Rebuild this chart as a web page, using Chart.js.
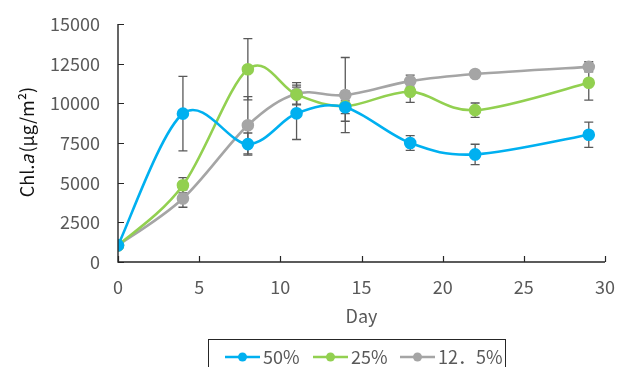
<!DOCTYPE html>
<html>
<head>
<meta charset="utf-8">
<script src="https://cdn.jsdelivr.net/npm/chart.js@4"></script>
<style>
  html, body { margin: 0; padding: 0; background: #fff; }
  #wrap { width: 619px; height: 367px; position: relative; }
</style>
</head>
<body>
<div id="wrap"><canvas id="c" width="619" height="367"></canvas></div>
<script>
// Sampling days
const days = [0, 4, 8, 11, 14, 18, 22, 29];

// Chl.a (µg/m²) means and standard deviations per treatment
const seriesLabels = ['50%', '25%', '12．5%'];
const chl50  = [1050, 9350, 7430, 9370, 9750, 7500, 6780, 8020];
const sd50   = [0, 2350, 700, 1650, 400, 460, 640, 800];
const chl25  = [1050, 4840, 12150, 10550, 9820, 10730, 9570, 11300];
const sd25   = [0, 480, 1930, 600, 950, 670, 450, 1100];
const chl125 = [1050, 4000, 8620, 10600, 10520, 11400, 11850, 12300];
const sd125  = [0, 550, 1800, 700, 2370, 380, 200, 320];

// Axis ticks
const xTicks = [0, 5, 10, 15, 20, 25, 30];
const yTicks = [0, 2500, 5000, 7500, 10000, 12500, 15000];

const colors = ['#00B0F0', '#92D050', '#A5A5A5'];
const FONT = '"Noto Sans CJK JP", "Noto Sans", sans-serif';
const TXT = '#595959';

const seriesValues = [chl50, chl25, chl125];
const seriesSD = [sd50, sd25, sd125];

const datasets = seriesValues.map((vals, i) => ({
  label: seriesLabels[i],
  data: days.map((d, j) => ({ x: d, y: vals[j] })),
  sd: seriesSD[i],
  borderColor: colors[i],
  backgroundColor: colors[i],
  pointBackgroundColor: colors[i],
  pointBorderColor: colors[i],
  pointRadius: 5,
  pointHoverRadius: 5,
  borderWidth: 2.6,
  tension: 0.3,
  fill: false
}));

// Catmull-Rom style smoothing (tangent = (next - prev) / 6) for the series curves
const smoothCurves = {
  id: 'smoothCurves',
  beforeDatasetsDraw(chart) {
    chart.data.datasets.forEach((ds, i) => {
      const meta = chart.getDatasetMeta(i);
      const line = meta.dataset;
      if (!line) return;
      line.updateControlPoints(chart.chartArea, 'x');
      const pts = meta.data;
      const n = pts.length;
      for (let k = 0; k < n; k++) {
        const p = pts[k];
        const prev = pts[Math.max(0, k - 1)];
        const next = pts[Math.min(n - 1, k + 1)];
        const tx = (next.x - prev.x) / 6;
        const ty = (next.y - prev.y) / 6;
        p.cp1x = p.x - tx; p.cp1y = p.y - ty;
        p.cp2x = p.x + tx; p.cp2y = p.y + ty;
      }
    });
  }
};

// Vertical error bars with caps, drawn under the series lines
const errorBars = {
  id: 'errorBars',
  beforeDatasetsDraw(chart) {
    const { ctx, scales: { x, y } } = chart;
    ctx.save();
    ctx.strokeStyle = '#595959';
    ctx.lineWidth = 1.3;
    chart.data.datasets.forEach(ds => {
      ds.data.forEach((p, j) => {
        const e = ds.sd[j];
        if (!e) return;
        const px = x.getPixelForValue(p.x);
        const top = y.getPixelForValue(p.y + e);
        const bot = y.getPixelForValue(p.y - e);
        ctx.beginPath();
        ctx.moveTo(px, top); ctx.lineTo(px, bot);
        ctx.moveTo(px - 4.5, top); ctx.lineTo(px + 4.5, top);
        ctx.moveTo(px - 4.5, bot); ctx.lineTo(px + 4.5, bot);
        ctx.stroke();
      });
    });
    ctx.restore();
  }
};

// Axis lines with inward tick marks, y-axis title and boxed legend
const decorations = {
  id: 'decorations',
  afterDraw(chart) {
    const { ctx, chartArea: a, scales: { x, y } } = chart;
    ctx.save();
    ctx.strokeStyle = '#262626';
    ctx.lineWidth = 1.4;
    ctx.beginPath();
    ctx.moveTo(a.left, a.top); ctx.lineTo(a.left, a.bottom); ctx.lineTo(a.right, a.bottom);
    ctx.stroke();
    ctx.lineWidth = 1.2;
    ctx.beginPath();
    yTicks.forEach(v => {
      const py = Math.round(y.getPixelForValue(v)) + 0.5;
      ctx.moveTo(a.left, py); ctx.lineTo(a.left + 6, py);
    });
    xTicks.forEach(v => {
      const px = Math.round(x.getPixelForValue(v)) + 0.5;
      ctx.moveTo(px, a.bottom); ctx.lineTo(px, a.bottom - 6);
    });
    ctx.stroke();

    // y-axis title: Chl.a (µg/m²) with italic a
    const parts = [
      { t: 'Chl.', f: '18px ' + FONT },
      { t: 'a', f: 'italic 18px ' + FONT },
      { t: '(μg/m²)', f: '18px ' + FONT }
    ];
    let total = 0;
    parts.forEach(p => { ctx.font = p.f; p.w = ctx.measureText(p.t).width; total += p.w; });
    ctx.translate(27, (a.top + a.bottom) / 2);
    ctx.rotate(-Math.PI / 2);
    ctx.fillStyle = '#111';
    ctx.textBaseline = 'middle';
    ctx.textAlign = 'left';
    let cx = -total / 2;
    parts.forEach(p => { ctx.font = p.f; ctx.fillText(p.t, cx, 0); cx += p.w + (p.t === 'a' ? 2 : 0); });
    ctx.setTransform(1, 0, 0, 1, 0, 0);

    // legend box
    const boxL = 208, boxR = 505, boxT = 339;
    ctx.strokeStyle = '#262626';
    ctx.lineWidth = 1;
    ctx.strokeRect(boxL + 0.5, boxT + 0.5, boxR - boxL, 60);
    const itemX = [225, 313, 400];
    const ly = 357;
    ctx.font = '18px ' + FONT;
    ctx.textBaseline = 'middle';
    chart.data.datasets.forEach((ds, i) => {
      const lx = itemX[i];
      ctx.strokeStyle = ds.borderColor;
      ctx.lineWidth = 2.6;
      ctx.beginPath(); ctx.moveTo(lx, ly); ctx.lineTo(lx + 35, ly); ctx.stroke();
      ctx.fillStyle = ds.borderColor;
      ctx.beginPath(); ctx.arc(lx + 17.5, ly, 4.5, 0, Math.PI * 2); ctx.fill();
      ctx.fillStyle = TXT;
      ctx.fillText(ds.label, lx + 38, ly);
    });
    ctx.restore();
  }
};

new Chart(document.getElementById('c'), {
  type: 'line',
  data: { datasets },
  options: {
    responsive: false,
    animation: false,
    events: [],
    layout: { autoPadding: false, padding: { top: 24, right: 14, left: 0, bottom: 40 } },
    plugins: { legend: { display: false }, tooltip: { enabled: false } },
    scales: {
      x: {
        type: 'linear', min: 0, max: 30,
        afterBuildTicks(s) { s.ticks = xTicks.map(v => ({ value: v })); },
        afterFit(s) { s.height = 65; s.paddingLeft = 0; s.paddingRight = 0; s.paddingTop = 0; s.paddingBottom = 0; },
        grid: { display: false, drawTicks: false },
        border: { display: false },
        ticks: { color: TXT, font: { family: FONT, size: 18 }, padding: 14, maxRotation: 0 },
        title: { display: true, text: 'Day', color: TXT, font: { family: FONT, size: 18 }, padding: { top: 2, bottom: 0 } }
      },
      y: {
        min: 0, max: 15000,
        afterBuildTicks(s) { s.ticks = yTicks.map(v => ({ value: v })); },
        afterFit(s) { s.width = 118; s.paddingLeft = 0; s.paddingRight = 0; s.paddingTop = 0; s.paddingBottom = 0; },
        grid: { display: false, drawTicks: false },
        border: { display: false },
        ticks: { color: TXT, font: { family: FONT, size: 18 }, padding: 18, callback: v => String(v) }
      }
    }
  },
  plugins: [smoothCurves, errorBars, decorations]
});
</script>
</body>
</html>
